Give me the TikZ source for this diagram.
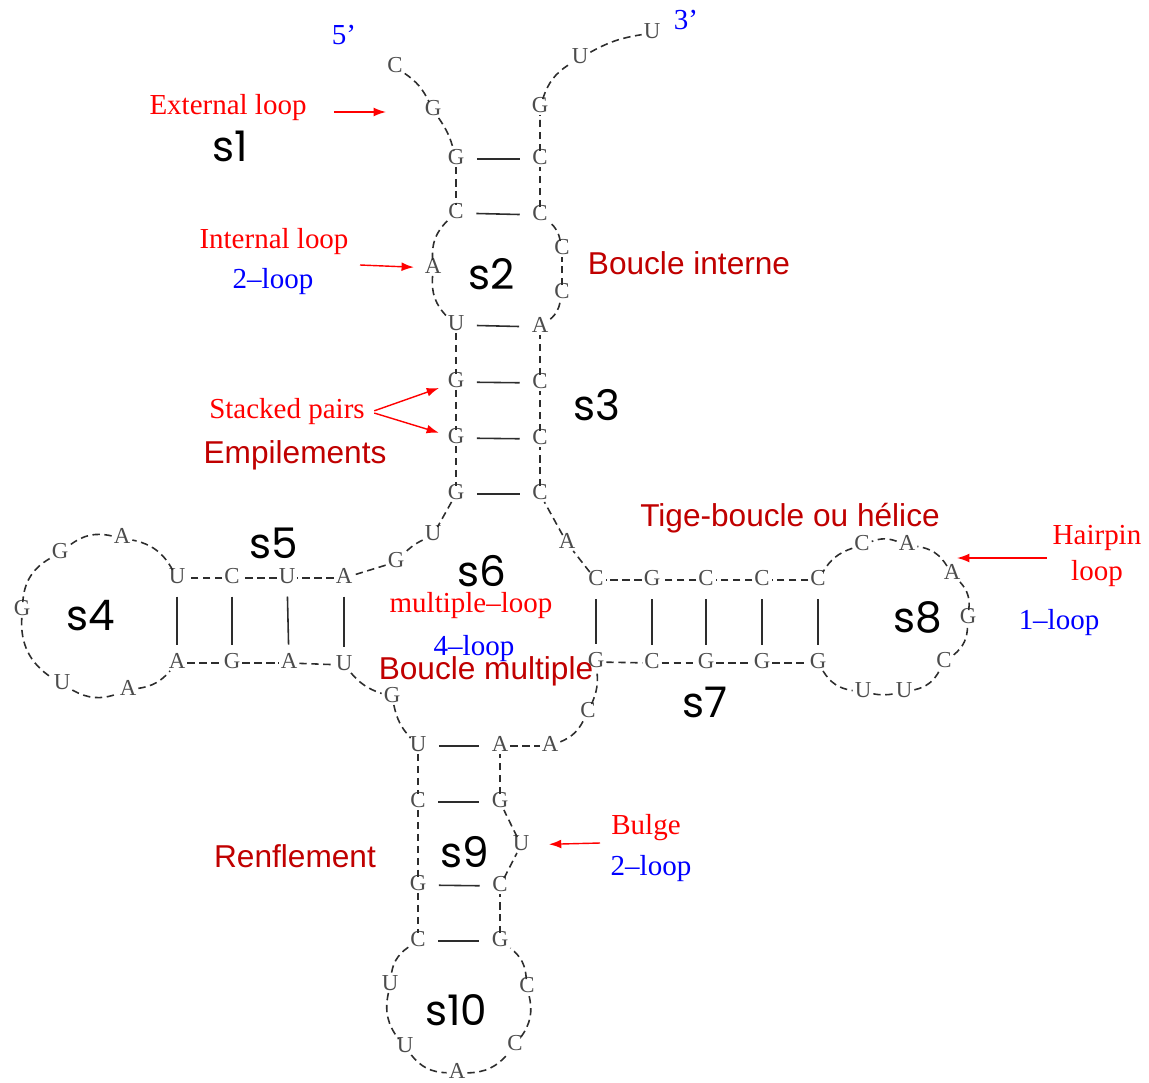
\documentclass[tikz,border=0pt]{standalone}
\usepackage{fontspec}
\setmainfont{Liberation Serif}
\newfontfamily\remarkfont{Liberation Sans}
\newfontfamily\stemfont{Poppins}
\usetikzlibrary{arrows.meta}
\definecolor{darkred}{RGB}{192,0,0}
\definecolor{basegray}{RGB}{45,45,45}

\begin{document}
\begin{tikzpicture}[x = 0.02cm, y = -0.02cm,
        base/.style = {inner sep = 1pt, text = basegray!85, font = \fontsize{13}{13}\selectfont, text height = 1.45ex, text depth = 0pt},
        backbone/.style = {draw = basegray, line width = 0.9pt, dash pattern = on 4.2pt off 2.6pt},
        pair/.style = {draw = basegray, line width = 0.9pt, shorten < = 6pt, shorten > = 6pt},
        note/.style = {text = red, font = \fontsize{16.5}{21}\selectfont, align = center},
        loopsize/.style = {text = blue, font = \fontsize{16.5}{21}\selectfont},
        remark/.style = {text = darkred, font = \remarkfont\fontsize{18}{22}\selectfont},
        stem/.style = {font = \stemfont\fontsize{24}{28}\selectfont},
        pointer/.style = {draw = red, line width = 0.8pt, -{Latex[length = 7pt, width = 5pt]}}]
        \useasboundingbox (0,0) rectangle (1149,1082);
        \foreach \x/\y/\l/\bd [count = \i, remember = \i as \p (initially 0)] in {
                395/67/C/0, 433/110/G/15, 456/159/G/10, 456/213/C/0, 433/268/A/-25, 456/325/U/-25,
                456/382/G/0, 456/438/G/0, 456/494/G/0, 433/535/U/0, 396/562/G/-10,
                344/578/A/0, 287/578/U/0, 232/578/C/0, 177/578/U/0,
                122/538/A/-25, 60/553/G/-25, 22/610/G/-28, 62/684/U/-30, 128/690/A/-25,
                177/663/A/-20, 232/663/G/0, 289/663/A/0, 344/665/U/0, 392/697/G/-15,
                418/746/U/-15, 418/802/C/0, 418/885/G/0, 418/941/C/0,
                390/985/U/-25, 405/1047/U/-25, 457/1073/A/-25, 515/1045/C/-25, 527/987/C/-25,
                500/941/G/-25, 500/886/C/0, 521/845/U/0, 500/802/G/0, 500/746/A/0,
                550/746/A/0, 588/712/C/-20, 596/662/G/-15,
                652/663/C/0, 706/663/G/0, 762/663/G/0, 818/663/G/0,
                863/692/U/-25, 904/692/U/-10, 944/662/C/-25, 968/618/G/-25, 952/574/A/-25, 907/545/A/-25, 862/545/C/-20,
                818/580/C/-20, 762/580/C/0, 706/580/C/0, 652/580/G/0, 596/580/C/0,
                567/543/A/0, 540/494/C/0, 540/439/C/0, 540/383/C/0, 540/327/A/0,
                562/293/C/-20, 562/249/C/0, 540/215/C/-20, 540/159/C/0, 540/107/G/0,
                580/58/U/20, 652/33/U/10} {
            \node (n\i) at (\x,\y) [base] {\l};
            \ifnum\i>1 \path [backbone] (n\p) to [bend left = \bd] (n\i); \fi
        }
        \foreach \a/\b in {3/67, 4/66, 6/63, 7/62, 8/61, 9/60, 12/24, 13/23, 14/22, 15/21,
                26/39, 27/38, 28/36, 29/35, 42/58, 43/57, 44/56, 45/55, 46/54}
            \path [pair] (n\a) -- (n\b);

        \node (five) at (344,35) [loopsize] {5’};
        \node (three) at (686,20) [loopsize] {3’};

        \node (external) at (228,108) [note] {External loop};
        \node (s1) at (230,146) [stem] {s1};
        \node (internal) at (274,242) [note] {Internal loop};
        \node (internalsize) at (273,282) [loopsize] {2–loop};
        \node (s2) at (492,274) [stem] {s2};
        \node (internalfr) at (689,263) [remark] {Boucle interne};
        \node (s3) at (597,405) [stem] {s3};
        \node (stacked) at (287,412) [note] {Stacked pairs};
        \node (stackedfr) at (295,455) [remark] {Empilements};
        \node (s5) at (274,543) [stem] {s5};
        \node (s4) at (91,616) [stem] {s4};
        \node (s6) at (482,571) [stem] {s6};
        \node (multiple) at (471,606) [note] {multiple–loop};
        \node (multiplesize) at (474,649) [loopsize] {4–loop};
        \node (multiplefr) at (486,671) [remark] {Boucle multiple};
        \node (helixfr) at (790,518) [remark] {Tige-boucle ou hélice};
        \node (hairpin) at (1097,556) [note] {Hairpin \\ loop};
        \node (hairpinsize) at (1059,623) [loopsize] {1–loop};
        \node (s8) at (918,617) [stem] {s8};
        \node (s7) at (705,702) [stem] {s7};
        \node (bulge) at (646,828) [note] {Bulge};
        \node (bulgesize) at (651,869) [loopsize] {2–loop};
        \node (bulgefr) at (295,856) [remark] {Renflement};
        \node (s9) at (465,852) [stem] {s9};
        \node (s10) at (456,1010) [stem] {s10};

        \coordinate (externaltip) at (386,112);
        \coordinate (internaltail) at (360,265);
        \coordinate (hairpintip) at (957,558);
        \coordinate (bulgetail) at (600,843);
        \path [pointer, shorten < = 12pt] (external.east |- externaltip) -- (externaltip);
        \path [pointer, shorten > = 5pt] (internaltail) -- (n5);
        \path [pointer, shorten < = 2pt, shorten > = 4pt] (stacked.east) -- (n7);
        \path [pointer, shorten < = 2pt, shorten > = 4pt] (stacked.east) -- (n8);
        \path [pointer] (hairpin.west |- hairpintip) -- (hairpintip);
        \path [pointer, shorten > = 10pt] (bulgetail) -- (n37);
    \end{tikzpicture}
\end{document}
